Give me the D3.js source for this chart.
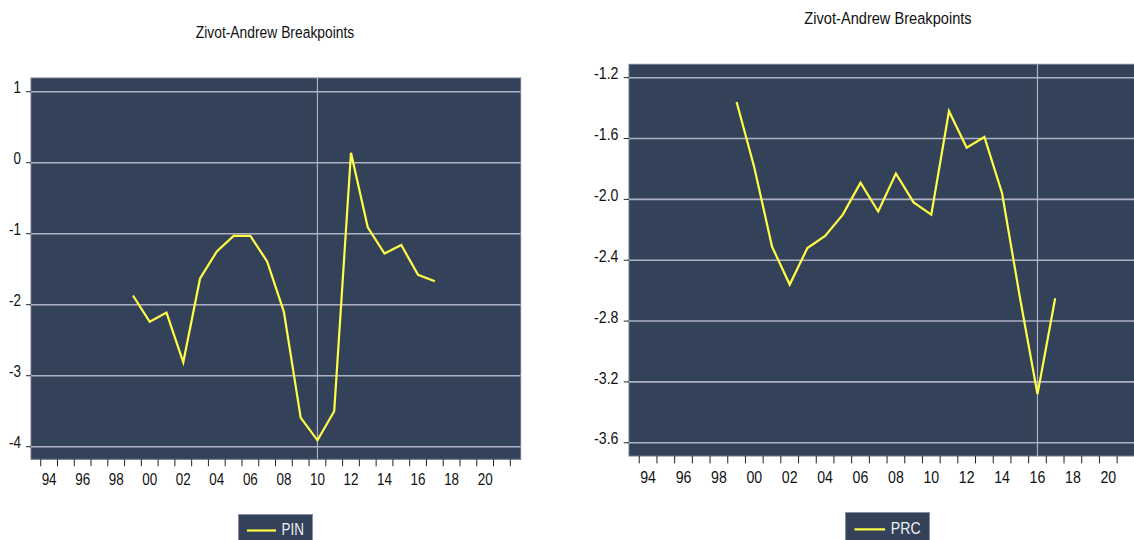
<!DOCTYPE html>
<html>
<head>
<meta charset="utf-8">
<script src="https://d3js.org/d3.v7.min.js"></script>
<style>
  html, body { margin: 0; padding: 0; background: #ffffff; }
  svg { display: block; }
  .lbl { font-family: "Liberation Sans", Arial, sans-serif; fill: #111; }
</style>
</head>
<body>
<svg id="chart" width="1134" height="540"></svg>
<script>
// Annual observations, plotted at mid-year
const years = [1999, 2000, 2001, 2002, 2003, 2004, 2005, 2006, 2007, 2008,
               2009, 2010, 2011, 2012, 2013, 2014, 2015, 2016, 2017];
const pinValues = [-1.87, -2.24, -2.11, -2.81, -1.63, -1.25, -1.03, -1.03, -1.39, -2.10,
                   -3.59, -3.91, -3.50, 0.14, -0.91, -1.28, -1.16, -1.58, -1.67];
const prcValues = [-1.36, -1.79, -2.31, -2.56, -2.32, -2.24, -2.10, -1.89, -2.08, -1.83,
                   -2.02, -2.10, -1.42, -1.66, -1.59, -1.96, -2.64, -3.28, -2.65];

// Axis ticks
const tickYears = d3.range(1994, 2023);                       // one mark per year
const labelYears = d3.range(1994, 2021, 2);                   // labelled every other year
const xTickLabels = ["94", "96", "98", "00", "02", "04", "06", "08", "10", "12", "14", "16", "18", "20"];
const pinYTicks = [1, 0, -1, -2, -3, -4];
const prcYTicks = [-1.2, -1.6, -2.0, -2.4, -2.8, -3.2, -3.6];

// Structural break years
const pinBreak = 2010;
const prcBreak = 2016;

const title = "Zivot-Andrew Breakpoints";

const BG = "#334259";
const GRID = "#aeb1c5";
const LINE = "#ffff45";
const NARROW = 0.84;   // horizontal condensing of all labels

const svg = d3.select("#chart");

// plain hyphen-minus, as in the original axis labels
const fmtInt = d => String(d);
const fmtOne = d => d.toFixed(1);

function drawPanel(o) {
  const g = svg.append("g");
  const x = d3.scaleLinear().domain([1993.42, 2022.62]).range([o.left, o.right]);
  const y = d3.scaleLinear().domain(o.yDomain).range([o.bottom, o.top]);
  const s = o.scale;
  const place = (px, py) => `translate(${px},${py}) scale(${NARROW},1)`;

  // plot background
  g.append("rect")
    .attr("x", o.left).attr("y", o.top)
    .attr("width", o.right - o.left).attr("height", o.bottom - o.top)
    .attr("fill", BG).attr("stroke", "#6f7689").attr("stroke-width", 1);

  // horizontal gridlines
  g.selectAll("line.h").data(o.yTicks).join("line")
    .attr("x1", o.left).attr("x2", o.right)
    .attr("y1", d => y(d)).attr("y2", d => y(d))
    .attr("stroke", GRID).attr("stroke-width", 1.6);

  // break line
  g.append("line")
    .attr("x1", x(o.breakYear + 0.5)).attr("x2", x(o.breakYear + 0.5))
    .attr("y1", o.top).attr("y2", o.bottom)
    .attr("stroke", GRID).attr("stroke-width", 1.2);

  // y ticks and labels
  g.selectAll("line.yt").data(o.yTicks).join("line")
    .attr("x1", o.left - 5 * s).attr("x2", o.left)
    .attr("y1", d => y(d)).attr("y2", d => y(d))
    .attr("stroke", "#222").attr("stroke-width", 1);
  g.selectAll("text.yl").data(o.yTicks).join("text")
    .attr("class", "lbl")
    .attr("transform", d => place(o.left - 10 * s, y(d) + 1.5 * s))
    .attr("text-anchor", "end")
    .attr("font-size", 16 * s)
    .text(d => o.yFormat(d));

  // x ticks and labels
  g.selectAll("line.xt").data(tickYears).join("line")
    .attr("x1", d => x(d)).attr("x2", d => x(d))
    .attr("y1", o.bottom).attr("y2", o.bottom + 7 * s)
    .attr("stroke", "#222").attr("stroke-width", 1);
  g.selectAll("text.xl").data(labelYears).join("text")
    .attr("class", "lbl")
    .attr("transform", d => place(x(d + 0.5), o.bottom + 25.5 * s))
    .attr("text-anchor", "middle")
    .attr("font-size", 16 * s)
    .text((d, i) => xTickLabels[i]);

  // series line
  const line = d3.line().x(d => x(d[0] + 0.5)).y(d => y(d[1]));
  g.append("path")
    .datum(years.map((yr, i) => [yr, o.values[i]]))
    .attr("d", line)
    .attr("fill", "none").attr("stroke", LINE)
    .attr("stroke-width", 2.2).attr("stroke-linejoin", "miter");

  // title
  g.append("text")
    .attr("class", "lbl")
    .attr("transform", place(o.titleX, o.titleY))
    .attr("text-anchor", "middle")
    .attr("font-size", 16.5 * s)
    .text(title);

  // legend
  const lg = g.append("g");
  lg.append("rect")
    .attr("x", o.legX).attr("y", o.legY)
    .attr("width", o.legW).attr("height", 40)
    .attr("fill", BG).attr("stroke", "#8a90a2").attr("stroke-width", 1);
  lg.append("line")
    .attr("x1", o.legX + 8.5 * s).attr("x2", o.legX + 37.5 * s)
    .attr("y1", o.legY + 16 * s).attr("y2", o.legY + 16 * s)
    .attr("stroke", LINE).attr("stroke-width", 2.2);
  lg.append("text")
    .attr("class", "lbl")
    .attr("transform", place(o.legX + 43 * s, o.legY + 20 * s))
    .attr("font-size", 16 * s)
    .style("fill", "#eef0f6")
    .text(o.name);
}

drawPanel({
  name: "PIN", values: pinValues, breakYear: pinBreak,
  left: 31, right: 520.7, top: 78, bottom: 459.3,
  yDomain: [-4.177, 1.193], yTicks: pinYTicks, yFormat: fmtInt,
  scale: 1, titleX: 275, titleY: 38,
  legX: 238.5, legY: 514.5, legW: 74
});

drawPanel({
  name: "PRC", values: prcValues, breakYear: prcBreak,
  left: 629, right: 1145.8, top: 64.3, bottom: 456,
  yDomain: [-3.687, -1.112], yTicks: prcYTicks, yFormat: fmtOne,
  scale: 1.055, titleX: 888, titleY: 24,
  legX: 845.5, legY: 512.5, legW: 84
});
</script>
</body>
</html>
